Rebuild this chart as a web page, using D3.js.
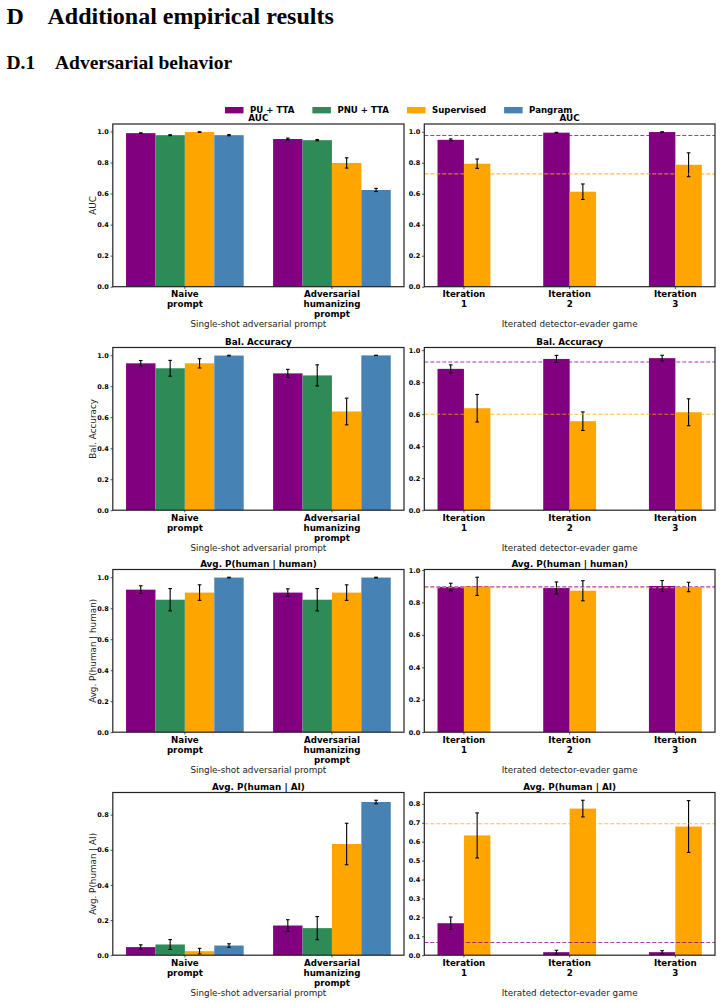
<!DOCTYPE html>
<html>
<head>
<meta charset="utf-8">
<script src="https://cdn.jsdelivr.net/npm/d3@7"></script>
<style>
    body { margin: 0; background: #fff; }
    svg { display: block; }
</style>
</head>
<body>
<svg id="fig" width="723" height="1004"></svg>
<script>
const seriesNames = ["PU + TTA", "PNU + TTA", "Supervised", "Pangram"];
const seriesColors = ["#800080", "#2e8b57", "#ffa500", "#4682b4"];
const shotGroups = [["Naive", "prompt"], ["Adversarial", "humanizing", "prompt"]];
const iterGroups = [["Iteration", "1"], ["Iteration", "2"], ["Iteration", "3"]];
const metricTitles = ["AUC", "Bal. Accuracy", "Avg. P(human | human)", "Avg. P(human | AI)"];
const shotXTitle = "Single-shot adversarial prompt";
const iterXTitle = "Iterated detector-evader game";

// single-shot panels: one row per series (PU, PNU, Supervised, Pangram), one value per prompt group
const aucShotMean = [[0.989, 0.951], [0.976, 0.944], [0.996, 0.797], [0.976, 0.623]];
const aucShotErr = [[0.002, 0.006], [0.003, 0.004], [0.002, 0.033], [0.004, 0.010]];
const balShotMean = [[0.948, 0.883], [0.916, 0.870], [0.948, 0.637], [0.998, 0.999]];
const balShotErr = [[0.018, 0.026], [0.051, 0.068], [0.030, 0.086], [0.002, 0.001]];
const hhShotMean = [[0.920, 0.901], [0.855, 0.855], [0.901, 0.901], [0.998, 0.998]];
const hhShotErr = [[0.025, 0.024], [0.072, 0.072], [0.050, 0.050], [0.002, 0.002]];
const haShotMean = [[0.046, 0.169], [0.061, 0.154], [0.023, 0.633], [0.055, 0.872]];
const haShotErr = [[0.013, 0.033], [0.028, 0.066], [0.016, 0.118], [0.010, 0.010]];

// iterated game panels: PU + TTA and Supervised, one value per iteration
const aucIterMean = [[0.948, 0.994, 0.998], [0.794, 0.613, 0.787]];
const aucIterErr = [[0.006, 0.002, 0.002], [0.030, 0.050, 0.077]];
const balIterMean = [[0.883, 0.945, 0.950], [0.637, 0.556, 0.612]];
const balIterErr = [[0.025, 0.022, 0.018], [0.086, 0.058, 0.084]];
const hhIterMean = [[0.895, 0.889, 0.901], [0.899, 0.872, 0.895]];
const hhIterErr = [[0.023, 0.037, 0.034], [0.056, 0.062, 0.029]];
const haIterMean = [[0.169, 0.016, 0.016], [0.633, 0.775, 0.680]];
const haIterErr = [[0.033, 0.010, 0.008], [0.119, 0.044, 0.137]];

// dashed reference lines (PU + TTA, Supervised)
const aucIterRef = [0.976, 0.728];
const balIterRef = [0.926, 0.599];
const hhIterRef = [0.896, 0.891];
const haIterRef = [0.067, 0.695];

const yTicksFull = [0, 0.2, 0.4, 0.6, 0.8, 1.0];
const yTicksLow = [0, 0.2, 0.4, 0.6, 0.8];
const yTicksTenth = [0, 0.1, 0.2, 0.3, 0.4, 0.5, 0.6, 0.7, 0.8];

const rows = [
    {title: metricTitles[0], shotMean: aucShotMean, shotErr: aucShotErr, iterMean: aucIterMean, iterErr: aucIterErr, ref: aucIterRef, shotTicks: yTicksFull, iterTicks: yTicksFull},
    {title: metricTitles[1], shotMean: balShotMean, shotErr: balShotErr, iterMean: balIterMean, iterErr: balIterErr, ref: balIterRef, shotTicks: yTicksFull, iterTicks: yTicksFull},
    {title: metricTitles[2], shotMean: hhShotMean, shotErr: hhShotErr, iterMean: hhIterMean, iterErr: hhIterErr, ref: hhIterRef, shotTicks: yTicksFull, iterTicks: yTicksFull},
    {title: metricTitles[3], shotMean: haShotMean, shotErr: haShotErr, iterMean: haIterMean, iterErr: haIterErr, ref: haIterRef, shotTicks: yTicksLow, iterTicks: yTicksTenth}
];

const FONT = "'DejaVu Sans', sans-serif";
const rowTops = [124, 347.5, 569.5, 792.5];
const panelH = 162.7;
const leftX = [112.8, 404];
const rightX = [424.3, 715];

const svg = d3.select("#fig");
svg.append("rect").attr("width", 723).attr("height", 1004).attr("fill", "#fff");

// page headings
const head = svg.append("g")
    .attr("font-family", "'Liberation Serif', 'Times New Roman', serif")
    .attr("font-weight", "bold")
    .attr("fill", "#000");
head.append("text").attr("x", 6.5).attr("y", 23.5).attr("font-size", 24).text("D");
head.append("text").attr("x", 47.5).attr("y", 23.5).attr("font-size", 24).text("Additional empirical results");
head.append("text").attr("x", 6.5).attr("y", 69).attr("font-size", 19.5).text("D.1");
head.append("text").attr("x", 55).attr("y", 69).attr("font-size", 19.5).text("Adversarial behavior");

// legend (sits just above the first row titles, as in the original)
const legend = svg.append("g").attr("font-family", FONT).attr("font-size", 8.6).attr("font-weight", "bold");
let lx = 225;
seriesNames.forEach((name, i) => {
    legend.append("rect")
        .attr("x", lx).attr("y", 107)
        .attr("width", 18.5).attr("height", 6.4)
        .attr("fill", seriesColors[i]);
    const t = legend.append("text")
        .attr("x", lx + 25).attr("y", 113.3)
        .attr("fill", "#000")
        .text(name);
    lx += 25 + t.node().getComputedTextLength() + 18;
});

function drawPanel(top, xr, xDomain, groups, bars, ticks, title, xTitle, yLabel, refs) {
    const bottom = top + panelH;
    const yMax = d3.max(bars, b => b.mean + b.err) * 1.05;
    const x = d3.scaleLinear().domain(xDomain).range(xr);
    const y = d3.scaleLinear().domain([0, yMax]).range([bottom, top]);
    const g = svg.append("g").attr("font-family", FONT);

    // bars
    g.selectAll("rect.bar")
        .data(bars)
        .enter()
        .append("rect")
        .attr("class", "bar")
        .attr("x", d => x(d.pos))
        .attr("y", d => y(d.mean))
        .attr("width", d => x(d.pos + d.width) - x(d.pos))
        .attr("height", d => y(0) - y(d.mean))
        .attr("fill", d => d.color);

    // error bars
    const eb = g.selectAll("g.err")
        .data(bars)
        .enter()
        .append("g")
        .attr("class", "err")
        .attr("stroke", "#000")
        .attr("stroke-width", 1.1);
    eb.append("line")
        .attr("x1", d => x(d.pos + d.width / 2)).attr("x2", d => x(d.pos + d.width / 2))
        .attr("y1", d => y(d.mean - d.err)).attr("y2", d => y(d.mean + d.err));
    [-1, 1].forEach(s => {
        eb.append("line")
            .attr("x1", d => x(d.pos + d.width / 2) - 1.8).attr("x2", d => x(d.pos + d.width / 2) + 1.8)
            .attr("y1", d => y(d.mean + s * d.err)).attr("y2", d => y(d.mean + s * d.err));
    });

    // dashed reference lines
    if (refs) {
        refs.forEach(r => {
            g.append("line")
                .attr("x1", xr[0]).attr("x2", xr[1])
                .attr("y1", y(r.value)).attr("y2", y(r.value))
                .attr("stroke", r.color)
                .attr("stroke-opacity", 0.75)
                .attr("stroke-width", 1.1)
                .attr("stroke-dasharray", "4,2");
        });
    }

    // y axis
    const yAxis = g.append("g")
        .attr("transform", `translate(${xr[0]},0)`)
        .call(d3.axisLeft(y).tickValues(ticks).tickFormat(d3.format(".1f")).tickSize(2.2).tickPadding(1.8));
    yAxis.select(".domain").remove();
    yAxis.selectAll("line").attr("stroke", "#222").attr("stroke-width", 0.8);
    yAxis.selectAll("text")
        .attr("font-family", FONT)
        .attr("font-size", 6.5)
        .attr("font-weight", "bold")
        .attr("fill", "#000");

    // x group labels
    groups.forEach((lines, i) => {
        const t = g.append("text")
            .attr("text-anchor", "middle")
            .attr("font-size", 8.7)
            .attr("font-weight", "bold")
            .attr("fill", "#000");
        lines.forEach((line, k) => {
            t.append("tspan")
                .attr("x", x(i))
                .attr("y", bottom + 10.7 + k * 10)
                .text(line);
        });
        g.append("line")
            .attr("x1", x(i)).attr("x2", x(i))
            .attr("y1", bottom).attr("y2", bottom + 2.2)
            .attr("stroke", "#222").attr("stroke-width", 0.8);
    });

    // frame
    g.append("rect")
        .attr("x", xr[0]).attr("y", top)
        .attr("width", xr[1] - xr[0]).attr("height", panelH)
        .attr("fill", "none")
        .attr("stroke", "#222")
        .attr("stroke-width", 1.2);

    // title and axis titles
    g.append("text")
        .attr("x", (xr[0] + xr[1]) / 2).attr("y", top - 2.6)
        .attr("text-anchor", "middle")
        .attr("font-size", 8.8)
        .attr("font-weight", "bold")
        .attr("fill", "#000")
        .text(title);
    g.append("text")
        .attr("x", (xr[0] + xr[1]) / 2).attr("y", bottom + 40.5)
        .attr("text-anchor", "middle")
        .attr("font-size", 8.8)
        .attr("fill", "#222")
        .text(xTitle);
    if (yLabel) {
        g.append("text")
            .attr("transform", `translate(95.5,${(top + bottom) / 2}) rotate(-90)`)
            .attr("text-anchor", "middle")
            .attr("font-size", 8.8)
            .attr("fill", "#222")
            .text(yLabel);
    }
}

rows.forEach((row, r) => {
    const top = rowTops[r];

    // single-shot: four bars per group, width 0.2
    const shotBars = [];
    row.shotMean.forEach((vals, s) => {
        vals.forEach((v, gi) => {
            shotBars.push({pos: gi + (s - 2) * 0.2, width: 0.2, mean: v, err: row.shotErr[s][gi], color: seriesColors[s]});
        });
    });
    drawPanel(top, leftX, [-0.49, 1.49], shotGroups, shotBars, row.shotTicks, row.title, shotXTitle, row.title);

    // iterated game: PU + TTA and Supervised, width 0.25
    const iterSeries = [0, 2];
    const iterBars = [];
    row.iterMean.forEach((vals, s) => {
        vals.forEach((v, gi) => {
            iterBars.push({pos: gi + (s - 1) * 0.25, width: 0.25, mean: v, err: row.iterErr[s][gi], color: seriesColors[iterSeries[s]]});
        });
    });
    const refs = row.ref.map((v, s) => ({value: v, color: seriesColors[iterSeries[s]]}));
    drawPanel(top, rightX, [-0.375, 2.375], iterGroups, iterBars, row.iterTicks, row.title, iterXTitle, null, refs);
});
</script>
</body>
</html>
